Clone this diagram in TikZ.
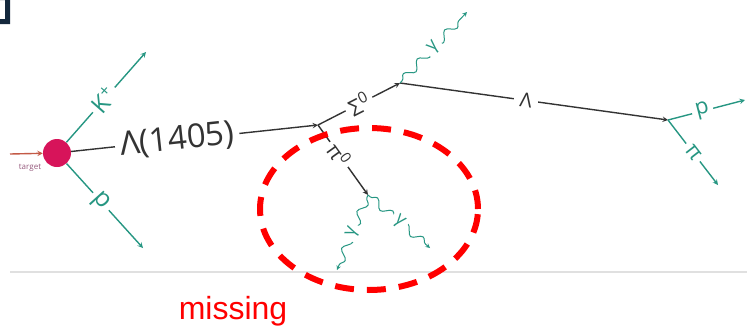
\documentclass[tikz,border=0pt]{standalone}
\usepackage{xcolor}
\usepackage{fontspec}
\setmainfont{Open Sans}
\newfontfamily\missfont{Liberation Sans}
\usetikzlibrary{arrows, decorations.pathmorphing}
\definecolor{trackteal}{RGB}{38,150,130}
\definecolor{dotred}{RGB}{215,20,90}
\definecolor{beamred}{RGB}{195,90,70}
\definecolor{tgtpurple}{RGB}{150,90,125}
\definecolor{cornernavy}{RGB}{20,40,60}
\tikzstyle{arrow} = [line width=1.4pt,-stealth]
\tikzstyle{track} = [arrow, black!80]
\tikzstyle{hadron} = [arrow, trackteal]
\tikzstyle{photon} = [line width=1pt, trackteal, -stealth, decorate, decoration={snake, amplitude=4pt, segment length=20pt, pre length=3pt, post length=5pt}]
\tikzstyle{lbl} = [fill=white, inner sep=4pt, sloped]

\begin{document}
\begin{tikzpicture}[x=1pt, y=-1pt]
\useasboundingbox (0,0) rectangle (747,330);
% corner of the slide frame
\fill[cornernavy] (0,0) -- (10,0) -- (10,24) -- (0,24) -- (0,19) -- (5,19) -- (5,0) -- cycle;

% vertices
\node (target) [circle, fill=dotred, minimum size=28pt, inner sep=0pt] at (57,153) {};
\coordinate (beam) at (10,154);
\coordinate (kp) at (146,52);
\coordinate (pp) at (143,248);
\coordinate (v1) at (318,125);
\coordinate (v2) at (400,83);
\coordinate (v3) at (668,120);
\coordinate (v4) at (368,195);
\coordinate (g1) at (467,12);
\coordinate (g2) at (337,270);
\coordinate (g3) at (430,248);
\coordinate (pl) at (745,100);
\coordinate (pil) at (718,185);

% floor line
\draw[black!12, line width=1.2pt] (10,272) -- (747,272);

% beam on target
\draw[arrow, beamred] (beam) -- (target);
\node (tgt) [text=tgtpurple, font=\fontsize{8}{8}\selectfont] at (30,168) {target};

% production
\draw[hadron] (target) -- node[lbl, pos=0.47, font=\fontsize{24}{24}\selectfont] {K\textsuperscript{+}} (kp);
\draw[hadron] (target) -- node[lbl, pos=0.45, font=\fontsize{25}{25}\selectfont] {p} (pp);
\draw[track] (target) -- node[lbl, pos=0.43, inner sep=5pt, font=\fontsize{33}{33}\selectfont] {Λ(1405)} (v1);

% decays
\draw[track] (v1) -- node[lbl, font=\fontsize{22}{22}\selectfont] {Σ\textsuperscript{0}} (v2);
\draw[track] (v1) -- node[lbl, pos=0.42, font=\fontsize{21}{21}\selectfont] {π\textsuperscript{0}} (v4);
\draw[track] (v2) -- node[lbl, pos=0.47, inner sep=6pt, font=\fontsize{20}{20}\selectfont] {Λ} (v3);
\draw[hadron] (v3) -- node[lbl, pos=0.45, font=\fontsize{22}{22}\selectfont] {p} (pl);
\draw[hadron] (v3) -- node[lbl, pos=0.5, font=\fontsize{22}{22}\selectfont] {π} (pil);

% photons
\draw[photon] (v2) -- node[lbl, font=\fontsize{18}{18}\selectfont] {γ} (g1);
\draw[photon] (v4) -- node[lbl, font=\fontsize{18}{18}\selectfont] {γ} (g2);
\draw[photon] (v4) -- node[lbl, font=\fontsize{18}{18}\selectfont] {γ} (g3);

% missing part
\draw[red, line width=6pt, dash pattern=on 19pt off 13pt] (369,209) ellipse [x radius=109pt, y radius=81pt];
\node (missing) [text=red, font=\missfont\fontsize{32}{32}\selectfont] at (233,311) {missing};
\end{tikzpicture}
\end{document}
